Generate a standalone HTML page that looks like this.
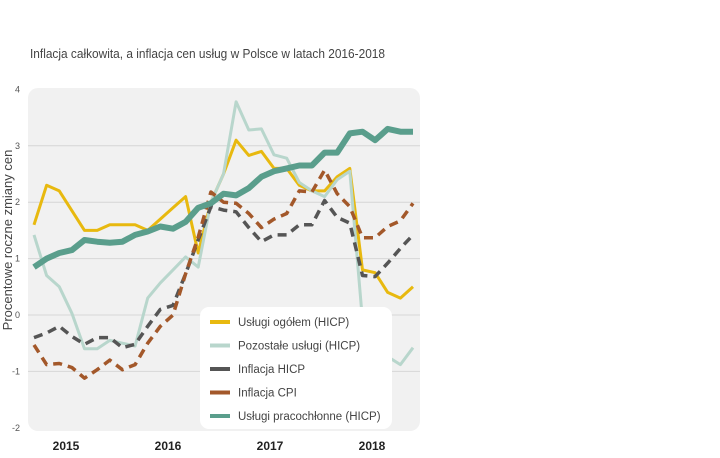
<!DOCTYPE html>
<html><head><meta charset="utf-8"><style>
body{margin:0;background:#fff;width:720px;height:453px;overflow:hidden;font-family:"Liberation Sans",sans-serif}
</style></head><body>
<svg id="chart" width="720" height="453" viewBox="0 0 720 453" xmlns="http://www.w3.org/2000/svg">
<text x="30" y="58" font-size="12.5" fill="#444" textLength="355" lengthAdjust="spacingAndGlyphs" font-family="Liberation Sans, sans-serif">Inflacja całkowita, a inflacja cen usług w Polsce w latach 2016-2018</text>
<rect x="28" y="88" width="392" height="343" rx="10" fill="#f1f1f1"/>
<g id="grid"></g>
<g id="series"></g>
<text transform="translate(12,240) rotate(-90)" text-anchor="middle" font-size="13" fill="#444">Procentowe roczne zmiany cen</text>
<g id="legend"></g>
</svg>
<script>
const years=["2015","2016","2017","2018"];
const yTicks=[4,3,2,1,0,-1,-2];
const uslugiOgolem=[1.6,2.3,2.2,1.85,1.5,1.5,1.6,1.6,1.6,1.5,1.7,1.9,2.1,1.1,2.0,2.5,3.1,2.83,2.9,2.6,2.6,2.3,2.2,2.2,2.45,2.6,0.8,0.75,0.4,0.3,0.5];
const pozostale=[1.42,0.7,0.5,0.03,-0.6,-0.6,-0.45,-0.5,-0.55,0.3,0.57,0.8,1.03,0.85,2.0,2.5,3.78,3.28,3.3,2.84,2.78,2.35,2.2,2.1,2.4,2.55,-0.1,-0.2,-0.74,-0.88,-0.58];
const hicp=[-0.4,-0.32,-0.2,-0.38,-0.52,-0.4,-0.4,-0.58,-0.52,-0.2,0.1,0.17,0.73,1.33,1.92,1.86,1.83,1.55,1.3,1.42,1.42,1.6,1.6,2.03,1.73,1.63,0.7,0.68,0.92,1.18,1.42];
const cpi=[-0.53,-0.88,-0.86,-0.93,-1.12,-0.97,-0.8,-0.97,-0.88,-0.5,-0.2,0,0.73,1.38,2.18,2.0,1.98,1.8,1.55,1.7,1.8,2.2,2.18,2.57,2.15,1.92,1.37,1.37,1.57,1.67,1.98];
const pracochlonne=[0.85,1.0,1.1,1.15,1.33,1.3,1.28,1.3,1.42,1.48,1.57,1.53,1.65,1.9,1.98,2.15,2.12,2.25,2.45,2.55,2.6,2.65,2.65,2.88,2.88,3.22,3.25,3.1,3.3,3.25,3.25];
const NS="http://www.w3.org/2000/svg";
const yS=v=>315-v*56.4;
const xS=i=>34+i*(413-34)/30;
const yearX=y=>66+(parseInt(y)-2015)*102;
function mk(t,a,p){const e=document.createElementNS(NS,t);for(const k in a)e.setAttribute(k,a[k]);p.appendChild(e);return e;}
const grid=document.getElementById('grid');
yTicks.forEach(v=>{
  if(v<4&&v>-2){const l=mk('line',{x1:28,x2:420,y1:yS(v),y2:yS(v),stroke:'#d6d6d6','stroke-width':1},grid);
  
  }
  const t=mk('text',{x:20,y:yS(v)+3,'text-anchor':'end','font-size':9,fill:'#555'},grid);
  
  
  t.textContent=v;
});
years.forEach(y=>{
  const t=mk('text',{x:yearX(y),y:450,'text-anchor':'middle','font-size':12,'font-weight':'bold',fill:'#222'},grid);
  
  
  t.textContent=y;
});
const series=[
 {d:uslugiOgolem,c:'#e8b90f',w:3,dash:null,n:'Usługi ogółem (HICP)',id:'series-uslugi-ogolem'},
 {d:pozostale,c:'#b8d6cc',w:3,dash:null,n:'Pozostałe usługi (HICP)',id:'series-pozostale-uslugi'},
 {d:hicp,c:'#555555',w:3.5,dash:'9,6',n:'Inflacja HICP',id:'series-inflacja-hicp'},
 {d:cpi,c:'#a3582a',w:3.5,dash:'9,6',n:'Inflacja CPI',id:'series-inflacja-cpi'},
 {d:pracochlonne,c:'#5a9e8c',w:6,dash:null,n:'Usługi pracochłonne (HICP)',id:'series-uslugi-pracochlonne'}
];
const sg=document.getElementById('series');
series.forEach(s=>{
  const p=mk('polyline',{points:s.d.map((v,i)=>xS(i).toFixed(1)+','+yS(v).toFixed(1)).join(' '),fill:'none',stroke:s.c,'stroke-width':s.w,'stroke-linejoin':'round'},sg);
  if(s.dash)p.setAttribute('stroke-dasharray',s.dash);
  
  
});
const lg=document.getElementById('legend');
const box=mk('rect',{x:200,y:307,width:192,height:122,rx:9,fill:'#fff'},lg);


series.forEach((s,i)=>{
  const y=322+i*23.5;
  const l=mk('line',{x1:210,x2:230,y1:y,y2:y,stroke:s.c,'stroke-width':4},lg);
  
  
  const t=mk('text',{x:238,y:y+4,'font-size':11.5,fill:'#444'},lg);
  
  
  t.textContent=s.n;
});
</script>
</body></html>
